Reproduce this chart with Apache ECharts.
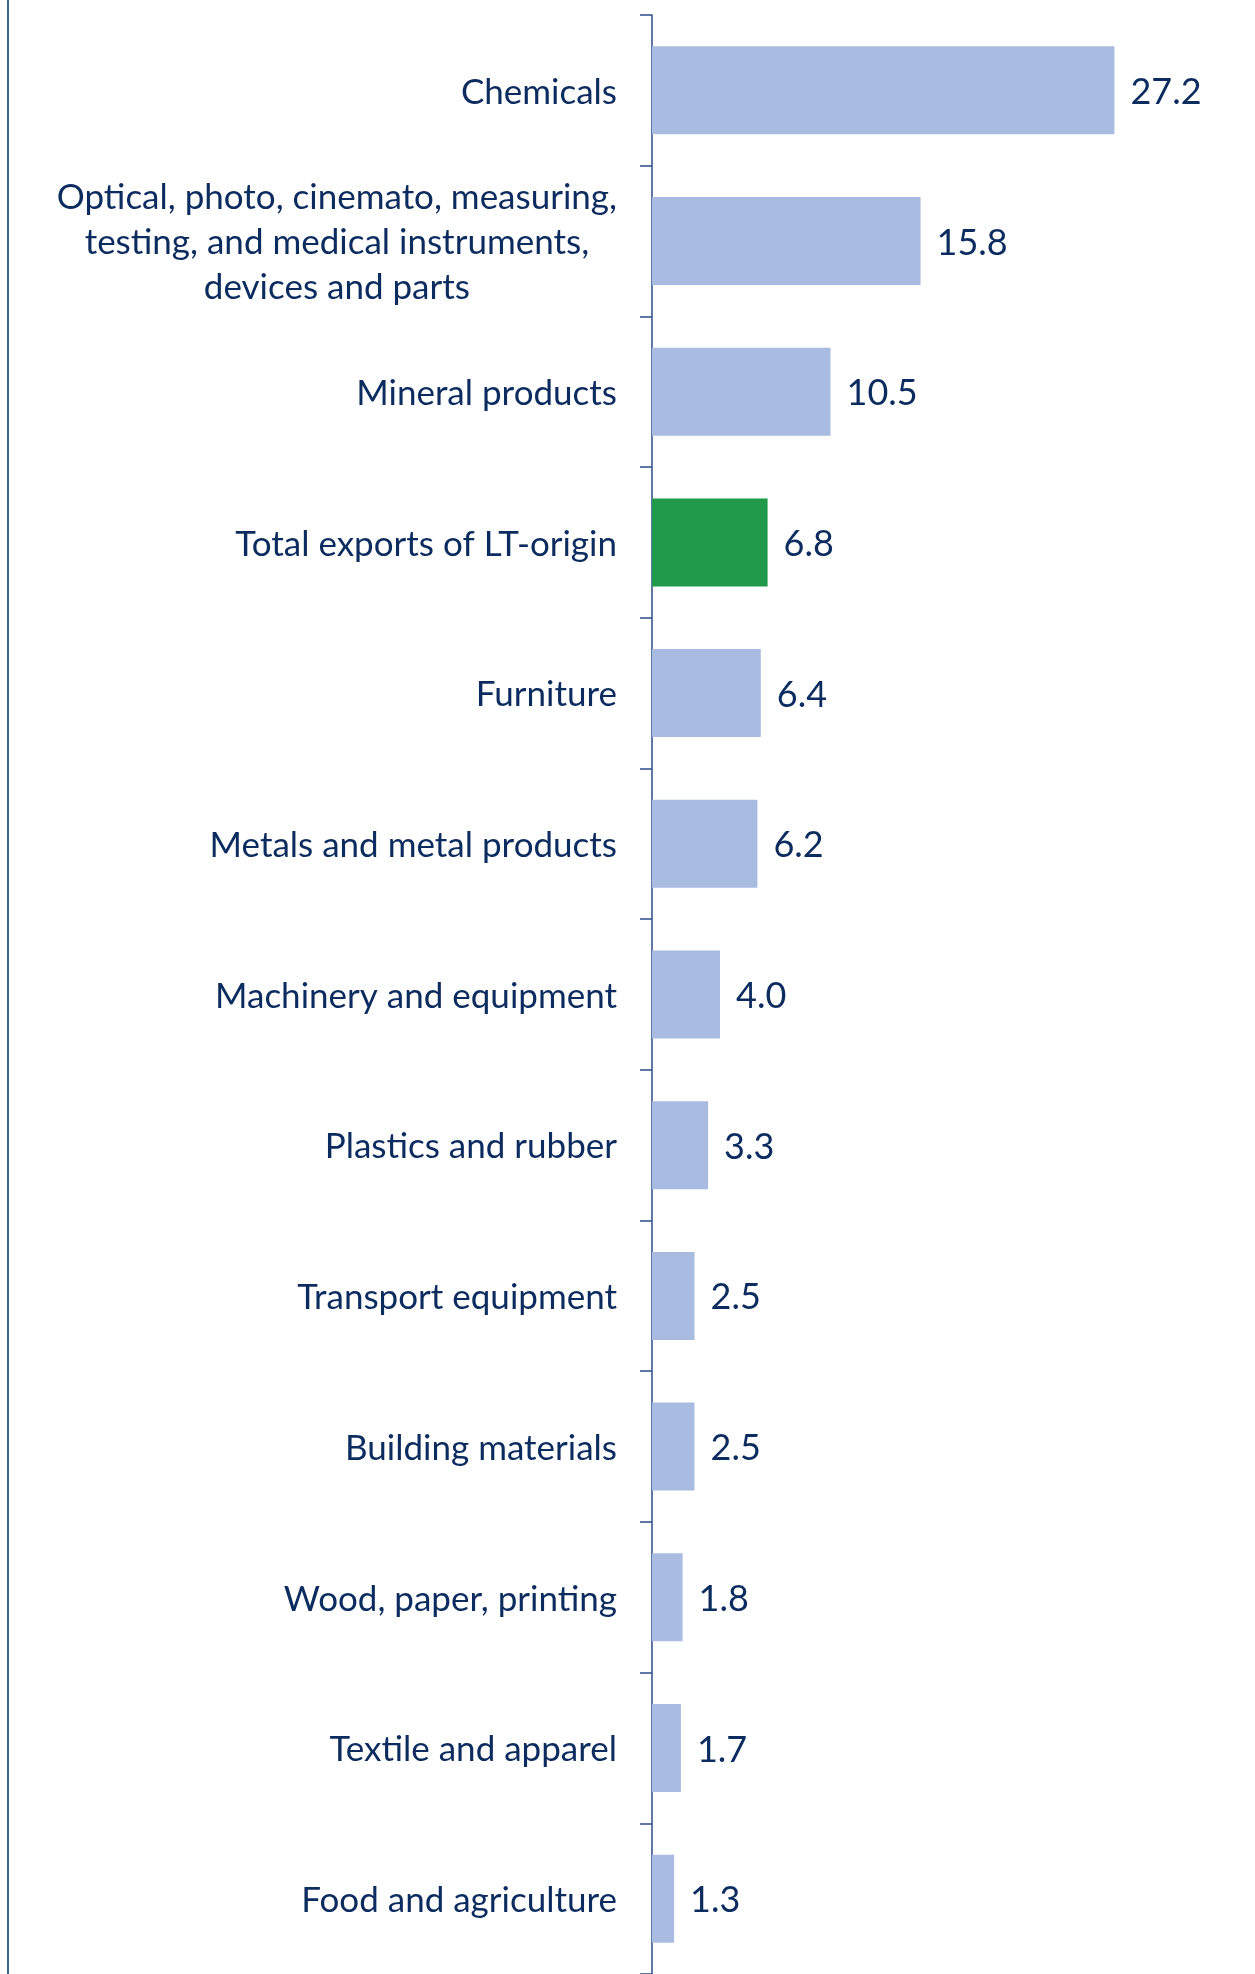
<!DOCTYPE html>
<html><head><meta charset="utf-8">
<script src="https://cdn.jsdelivr.net/npm/echarts@6/dist/echarts.min.js"></script>
<style>html,body{margin:0;padding:0;background:#fff}#c{width:1255px;height:1974px}</style>
</head><body><div id="c"></div>
<script>
const categories = [
  "Chemicals",
  "Optical, photo, cinemato, measuring,\ntesting, and medical instruments,\ndevices and parts",
  "Mineral products",
  "Total exports of LT-origin",
  "Furniture",
  "Metals and metal products",
  "Machinery and equipment",
  "Plastics and rubber",
  "Transport equipment",
  "Building materials",
  "Wood, paper, printing",
  "Textile and apparel",
  "Food and agriculture"
];
const values = [27.2, 15.8, 10.5, 6.8, 6.4, 6.2, 4.0, 3.3, 2.5, 2.5, 1.8, 1.7, 1.3];
const highlight = "Total exports of LT-origin";

const navy = "#0C2B5E";
const chart = echarts.init(document.getElementById('c'), null, {renderer: 'canvas'});
chart.setOption({
  animation: false,
  backgroundColor: '#ffffff',
  grid: {left: 652, right: 93, top: 15, bottom: -5, containLabel: false},
  xAxis: {type: 'value', min: 0, max: 30, show: false},
  yAxis: {
    type: 'category', inverse: true, data: categories,
    axisLine: {show: true, lineStyle: {color: '#2B4C86', width: 1.5}},
    axisTick: {show: true, length: 12, lineStyle: {color: '#2B4C86', width: 1.5}},
    axisLabel: {
      color: navy, fontFamily: 'Lato', fontSize: 35, lineHeight: 45, margin: 35, align: 'right',
      padding: [4, 0, 0, 0],
      formatter: v => v.split('\n').map(s => '{c|' + s + '}').join('\n'),
      rich: {c: {align: 'center', color: navy, fontFamily: 'Lato', fontSize: 35, lineHeight: 45}}
    }
  },
  series: [{
    type: 'bar',
    barWidth: 88,
    data: values.map((v, i) => ({value: v, itemStyle: {color: categories[i] === highlight ? '#219A4A' : '#A9BBE1'}})),
    label: {show: true, position: 'right', distance: 16, offset: [0, 2], color: navy, fontFamily: 'Lato', fontSize: 36,
      formatter: p => p.value.toFixed(1)}
  }],
  graphic: [{type: 'line', shape: {x1: 8, y1: 0, x2: 8, y2: 1974}, style: {stroke: '#3F6592', lineWidth: 2}}]
});
</script></body></html>
